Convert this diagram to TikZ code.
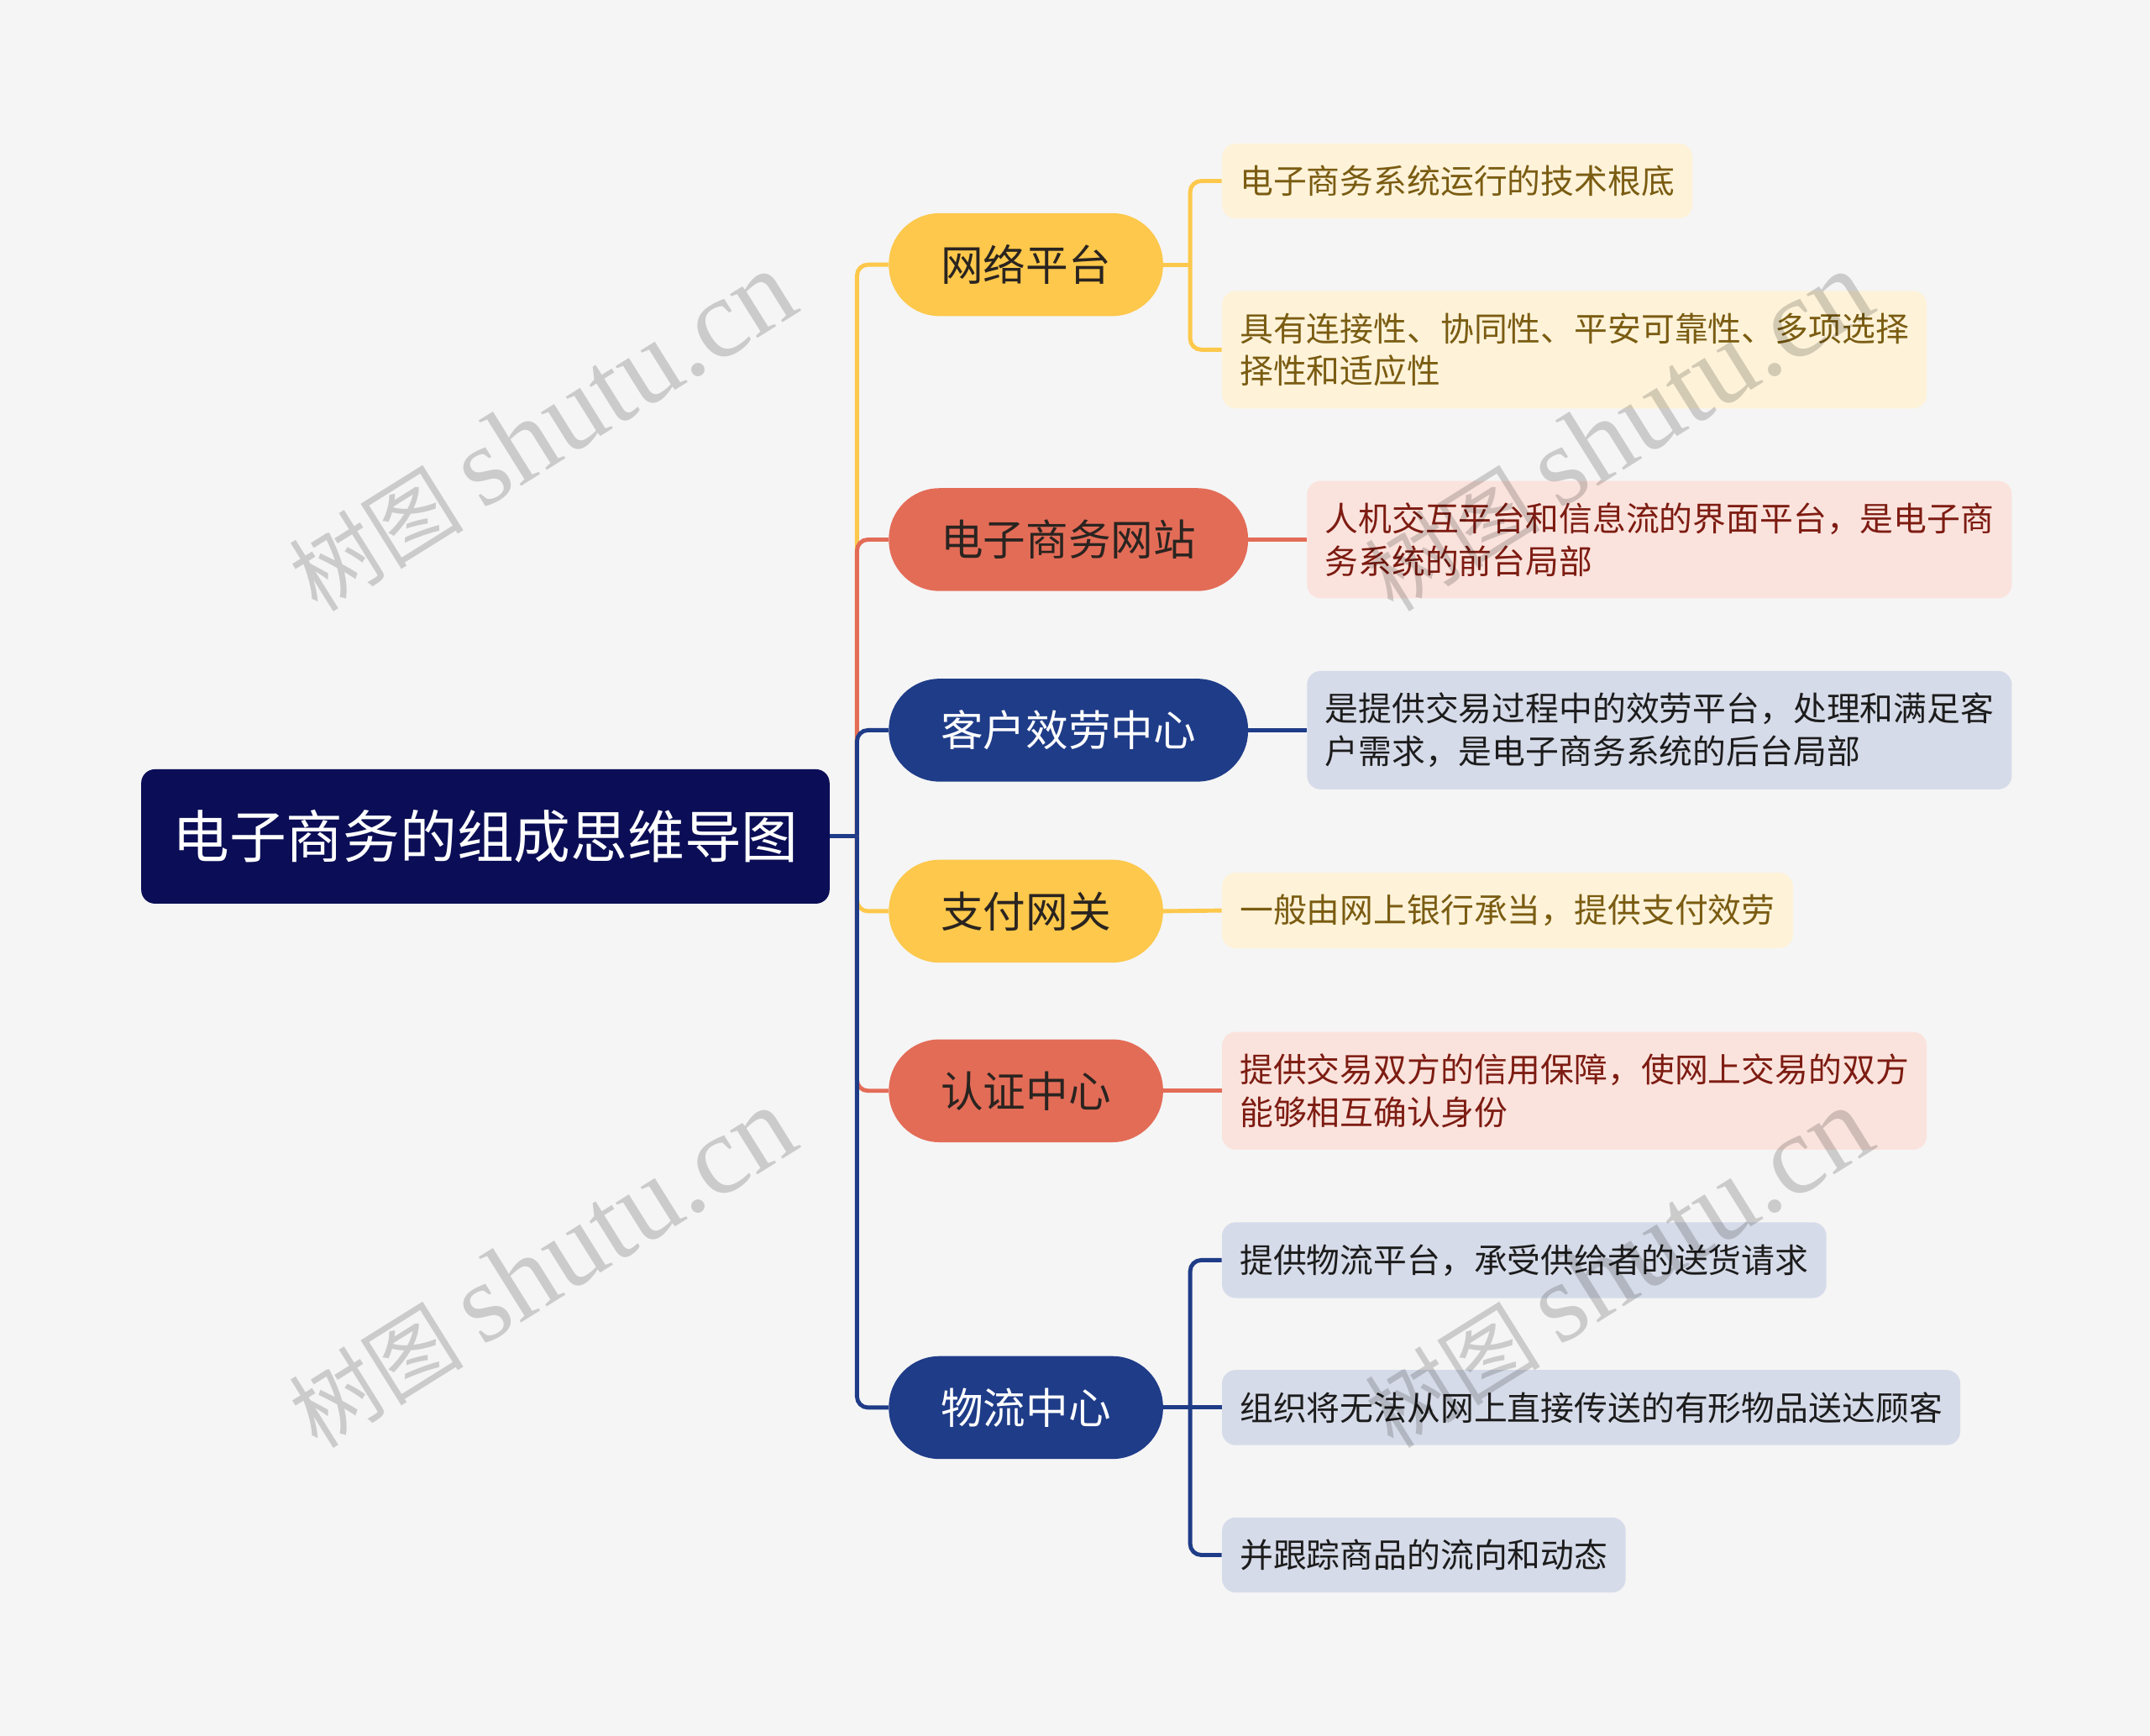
\documentclass[tikz,border=0pt]{standalone}
\usepackage{fontspec}
\setmainfont{Noto Sans CJK SC}
\newfontfamily\wmserif{Liberation Serif}
\newfontfamily\wmcjk{Noto Sans CJK SC}
\definecolor{bgc}{HTML}{F5F5F5}
\definecolor{rootc}{HTML}{0B0E56}
\definecolor{cyel}{HTML}{FDC84B}
\definecolor{cred}{HTML}{E36C57}
\definecolor{cblu}{HTML}{1F3C88}
\definecolor{lyel}{HTML}{FEF3D9}
\definecolor{lred}{HTML}{FBE3DD}
\definecolor{lblu}{HTML}{D6DBE9}
\definecolor{tyel}{HTML}{7A5C12}
\definecolor{tred}{HTML}{7D1C12}
\definecolor{tblu}{HTML}{1C1C1C}
\definecolor{tdark}{HTML}{2A2420}
\tikzset{
  pill/.style={rectangle, rounded corners=37pt, minimum height=75pt, inner xsep=38pt, inner ysep=0pt, font=\fontsize{31}{31}\selectfont, anchor=west},
  leaf/.style={rectangle, rounded corners=10pt, inner xsep=13pt, inner ysep=16pt, font=\fontsize{24.4}{31}\selectfont, align=left, anchor=west},
  conn/.style={line width=3pt, rounded corners=8pt},
  straight/.style={line width=3pt},
  wm/.style={rotate=32, text=black, text opacity=0.17, inner sep=0pt}
}
\begin{document}
\begin{tikzpicture}[x=1pt, y=-1pt]
\useasboundingbox[fill=bgc] (0,0) rectangle (1568,1266);
% root
\node[rectangle, rounded corners=10pt, fill=rootc, text=white, minimum width=502pt, minimum height=98pt, inner sep=0pt, font=\fontsize{41.5}{41.5}\selectfont] (root) at (354,610) {电子商务的组成思维导图};
% main branches
\node[pill, fill=cyel, text=tdark] (c1) at (648,193) {网络平台};
\node[pill, fill=cred, text=tdark] (c2) at (648,393.5) {电子商务网站};
\node[pill, fill=cblu, text=white] (c3) at (648,532.5) {客户效劳中心};
\node[pill, fill=cyel, text=tdark] (c4) at (648,664.5) {支付网关};
\node[pill, fill=cred, text=tdark] (c5) at (648,795.5) {认证中心};
\node[pill, fill=cblu, text=white] (c6) at (648,1026.5) {物流中心};
% leaves
\node[leaf, fill=lyel, text=tyel] (l1) at (891,132) {电子商务系统运行的技术根底};
\node[leaf, fill=lyel, text=tyel] (l2) at (891,255) {具有连接性、协同性、平安可靠性、多项选择\\择性和适应性};
\node[leaf, fill=lred, text=tred] (l3) at (953,393.5) {人机交互平台和信息流的界面平台，是电子商\\务系统的前台局部};
\node[leaf, fill=lblu, text=tblu] (l4) at (953,532.5) {是提供交易过程中的效劳平台，处理和满足客\\户需求，是电子商务系统的后台局部};
\node[leaf, fill=lyel, text=tyel] (l5) at (891,664) {一般由网上银行承当，提供支付效劳};
\node[leaf, fill=lred, text=tred] (l6) at (891,795.5) {提供交易双方的信用保障，使网上交易的双方\\能够相互确认身份};
\node[leaf, fill=lblu, text=tblu] (l7) at (891,919) {提供物流平台，承受供给者的送货请求};
\node[leaf, fill=lblu, text=tblu] (l8) at (891,1026.5) {组织将无法从网上直接传送的有形物品送达顾客};
\node[leaf, fill=lblu, text=tblu] (l9) at (891,1134) {并跟踪商品的流向和动态};
% connectors root -> branches
\coordinate (j) at (625,610);
\draw[conn, cyel] (j) |- (c1.west);
\draw[conn, cred] (j) |- (c2.west);
\draw[conn, cblu] (j) |- (c3.west);
\draw[conn, cyel] (j) |- (c4.west);
\draw[conn, cred] (j) |- (c5.west);
\draw[conn, cblu] (j) |- (c6.west);
\draw[straight, cblu] (root.east) -- (j);
% branches -> leaves
\coordinate (k1) at (868,193);
\draw[straight, cyel] (c1.east) -- (k1);
\draw[conn, cyel] (k1) |- (l1.west);
\draw[conn, cyel] (k1) |- (l2.west);
\draw[straight, cred] (c2.east) -- (l3.west);
\draw[straight, cblu] (c3.east) -- (l4.west);
\draw[straight, cyel] (c4.east) -- (l5.west);
\draw[straight, cred] (c5.east) -- (l6.west);
\coordinate (k6) at (868,1026.5);
\draw[straight, cblu] (c6.east) -- (k6);
\draw[conn, cblu] (k6) |- (l7.west);
\draw[conn, cblu] (k6) -- (l8.west);
\draw[conn, cblu] (k6) |- (l9.west);
% watermarks
\foreach \n/\p in {w1/{(395,315)}, w2/{(1180,315)}, w3/{(395,925)}, w4/{(1180,925)}}{
  \node[wm] (\n) at \p {\fontsize{64}{64}\selectfont\wmcjk 树图\hspace{14pt}\fontsize{82}{82}\selectfont\wmserif shutu.cn};
}
\end{tikzpicture}
\end{document}
